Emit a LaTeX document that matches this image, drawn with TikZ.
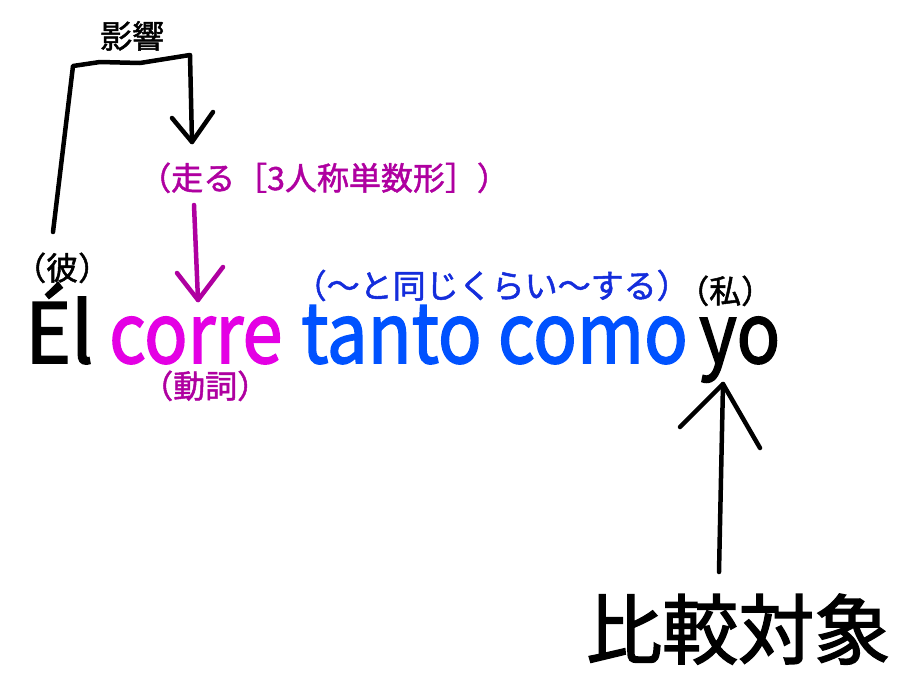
\documentclass[tikz,border=0pt]{standalone}
\usepackage{fontspec}
\setmainfont{Noto Sans CJK JP}
\newfontfamily\heavyfont{Noto Sans CJK JP}[FakeBold=2]
\newfontfamily\notefont{Noto Sans CJK JP}[FakeBold=1.5]
\definecolor{magword}{RGB}{228,0,228}
\definecolor{magnote}{RGB}{175,0,160}
\definecolor{blueword}{RGB}{0,82,255}
\definecolor{bluenote}{RGB}{20,45,220}
\newcommand{\trimparen}[1]{\kern-0.5em#1\kern-0.5em}
\begin{document}
\begin{tikzpicture}[x=1pt,y=-1pt,
  word/.style={inner sep=0pt,anchor=base west,font=\heavyfont\fontsize{83}{90}\selectfont},
  note/.style={inner sep=0pt,anchor=base west,text depth=0pt,font=\notefont\fontsize{32}{36}\selectfont},
  big/.style={inner sep=0pt,anchor=base west,font=\heavyfont\fontsize{76}{80}\selectfont},
  hand/.style={line width=4.5pt,line cap=round,line join=round}]
\useasboundingbox[fill=white] (0,0) rectangle (902,680);
% main sentence
\node[word] (el) at (25,363) {\scalebox{0.94}[1]{Él}};
\node[word,text=magword] (corre) at (109,363) {\scalebox{0.865}[1]{corre}};
\node[word,text=blueword] (tanto) at (301,363) {\scalebox{0.872}[1]{tanto como}};
\node[word] (yo) at (699,363) {\scalebox{0.87}[1]{yo}};
% annotations
\node[note] (kare) at (30,280) {\trimparen{（彼）}};
\node[note,text=magnote] (hashiru) at (155,190) {\trimparen{（走る［3人称単数形］）}};
\node[note,text=magnote] (doushi) at (157,398) {\trimparen{（動詞）}};
\node[note,text=bluenote,font=\notefont\fontsize{33}{36}\selectfont] (onaji) at (310,298) {\trimparen{（～と同じくらい～する）}};
\node[note] (watashi) at (693,303) {\trimparen{（私）}};
\node[note] (eikyou) at (100,48) {影響};
\node[big] (hikaku) at (586,658) {比較対象};
% influence bracket
\coordinate (b0) at (53,232);
\coordinate (b1) at (73,66);
\coordinate (b2) at (100,62);
\coordinate (b3) at (140,63);
\coordinate (b4) at (190,55);
\coordinate (b5) at (192,142);
\draw[hand] (b0) -- (b1) -- (b2) -- (b3) -- (b4) -- (b5);
\draw[hand] (172,118) -- (b5) -- (213,112);
% purple arrow
\coordinate (p0) at (194,205);
\coordinate (p1) at (198,300);
\draw[hand,draw=magnote] (p0) -- (p1);
\draw[hand,draw=magnote] (177,273) -- (p1) -- (223,267);
% comparison arrow
\coordinate (c0) at (719,572);
\coordinate (c1) at (723,384);
\draw[hand] (c0) -- (c1);
\draw[hand] (680,427) -- (c1) -- (760,448);
\end{tikzpicture}
\end{document}
